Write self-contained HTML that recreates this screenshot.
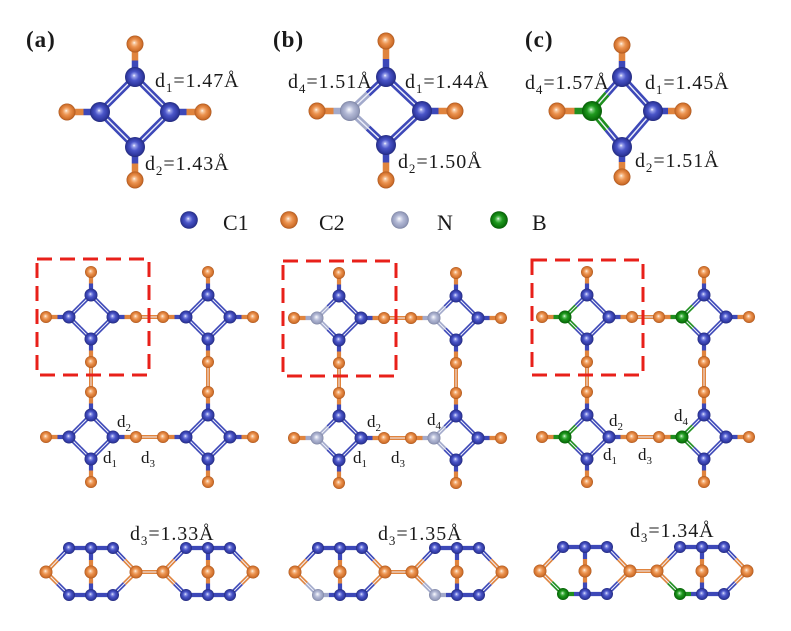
<!DOCTYPE html>
<html><head><meta charset="utf-8">
<style>
html,body{margin:0;padding:0;background:#fff;}
svg{display:block;}
.bb{stroke:#3d48b8;fill:none}
.bo{stroke:#e0843e;fill:none}
.bn{stroke:#a3aacb;fill:none}
.bg{stroke:#1f8f1f;fill:none}
.w{stroke:#eef0fa;fill:none}
text{font-family:"Liberation Serif","Times New Roman",serif;fill:#1a1a1a;}
</style></head>
<body>
<svg width="791" height="631" viewBox="0 0 791 631" xmlns="http://www.w3.org/2000/svg">
<defs>
<radialGradient id="gC1" cx="0.5" cy="0.5" r="0.5" fx="0.45" fy="0.42">
<stop offset="0" stop-color="#ffffff"/><stop offset="0.15" stop-color="#9aa2ec"/><stop offset="0.45" stop-color="#4a55c8"/><stop offset="0.85" stop-color="#2e379e"/><stop offset="1" stop-color="#232a7a"/>
</radialGradient>
<radialGradient id="gC2" cx="0.5" cy="0.5" r="0.5" fx="0.45" fy="0.42">
<stop offset="0" stop-color="#ffffff"/><stop offset="0.15" stop-color="#f8c9a0"/><stop offset="0.45" stop-color="#ec9350"/><stop offset="0.85" stop-color="#cf6f2a"/><stop offset="1" stop-color="#a85520"/>
</radialGradient>
<radialGradient id="gN" cx="0.5" cy="0.5" r="0.5" fx="0.45" fy="0.42">
<stop offset="0" stop-color="#ffffff"/><stop offset="0.15" stop-color="#e2e5f2"/><stop offset="0.45" stop-color="#b4bad6"/><stop offset="0.85" stop-color="#959cbc"/><stop offset="1" stop-color="#7a819f"/>
</radialGradient>
<radialGradient id="gB" cx="0.5" cy="0.5" r="0.5" fx="0.45" fy="0.42">
<stop offset="0" stop-color="#ffffff"/><stop offset="0.15" stop-color="#7fd07f"/><stop offset="0.45" stop-color="#1f9a1f"/><stop offset="0.85" stop-color="#0b720b"/><stop offset="1" stop-color="#075a07"/>
</radialGradient>

<!-- middle-row unit cell pieces -->
<g id="mBonds" stroke-width="4.2" stroke-linejoin="round">
<path class="bb" d="M0 -22V-33.5M22 0H33.5M0 22V33.5M0 22L22 0L0 -22"/>
<path class="bo" d="M0 -33.5V-45M33.5 0H45M0 33.5V45M-33.5 0H-45"/>
</g>
<path id="mWhite" class="w" stroke-width="1" d="M0 22L22 0L0 -22L-22 0Z"/>
<g id="mAtoms">
<circle cx="0" cy="-45" r="6" fill="url(#gC2)"/>
<circle cx="-45" cy="0" r="6" fill="url(#gC2)"/>
<circle cx="45" cy="0" r="6" fill="url(#gC2)"/>
<circle cx="0" cy="45" r="6" fill="url(#gC2)"/>
<circle cx="0" cy="-22" r="6.5" fill="url(#gC1)"/>
<circle cx="22" cy="0" r="6.5" fill="url(#gC1)"/>
<circle cx="0" cy="22" r="6.5" fill="url(#gC1)"/>
</g>
<g id="mA">
<use href="#mBonds"/>
<g stroke-width="4.2" stroke-linejoin="round">
<path class="bb" d="M0 -22L-11 -11M0 22L-11 11"/>
<path class="bb" d="M-11 -11L-22 0L-11 11M-22 0H-33.5"/>
</g>
<use href="#mWhite"/>
<use href="#mAtoms"/>
<circle cx="-22" cy="0" r="6.5" fill="url(#gC1)"/>
</g>
<g id="mN">
<use href="#mBonds"/>
<g stroke-width="4.2" stroke-linejoin="round">
<path class="bb" d="M0 -22L-11 -11M0 22L-11 11"/>
<path class="bn" d="M-11 -11L-22 0L-11 11M-22 0H-33.5"/>
</g>
<use href="#mWhite"/>
<use href="#mAtoms"/>
<circle cx="-22" cy="0" r="6.5" fill="url(#gN)"/>
</g>
<g id="mB">
<use href="#mBonds"/>
<g stroke-width="4.2" stroke-linejoin="round">
<path class="bb" d="M0 -22L-11 -11M0 22L-11 11"/>
<path class="bg" d="M-11 -11L-22 0L-11 11M-22 0H-33.5"/>
</g>
<use href="#mWhite"/>
<use href="#mAtoms"/>
<circle cx="-22" cy="0" r="6.5" fill="url(#gB)"/>
</g>

<!-- bottom-row side-view cell pieces -->
<g id="sBonds" stroke-width="4.2" stroke-linejoin="round">
<path class="bb" d="M-22 -24H22M0 23H22M0 -24V-12M0 23V11.5M-22 -24L-33.5 -12M22 -24L33.5 -12M22 23L33.5 11.5M0 23H-11"/>
<path class="bo" d="M0 -12V11.5M-33.5 -12L-45 0M33.5 -12L45 0L33.5 11.5M-33.5 11.5L-45 0"/>
</g>
<path id="sWhite" class="w" stroke-width="1" d="M-22 -24L-45 0L-22 23M22 -24L45 0L22 23"/>
<g id="sAtoms">
<circle cx="-45" cy="0" r="6.5" fill="url(#gC2)"/>
<circle cx="45" cy="0" r="6.5" fill="url(#gC2)"/>
<circle cx="-22" cy="-24" r="6" fill="url(#gC1)"/>
<circle cx="0" cy="-24" r="6" fill="url(#gC1)"/>
<circle cx="22" cy="-24" r="6" fill="url(#gC1)"/>
<circle cx="0" cy="0" r="6.5" fill="url(#gC2)"/>
<circle cx="0" cy="23" r="6" fill="url(#gC1)"/>
<circle cx="22" cy="23" r="6" fill="url(#gC1)"/>
</g>
<g id="sA">
<use href="#sBonds"/>
<path class="bb" stroke-width="4.2" stroke-linejoin="round" d="M-11 23H-22L-33.5 11.5"/>
<use href="#sWhite"/><use href="#sAtoms"/>
<circle cx="-22" cy="23" r="6" fill="url(#gC1)"/>
</g>
<g id="sN">
<use href="#sBonds"/>
<path class="bn" stroke-width="4.2" stroke-linejoin="round" d="M-11 23H-22L-33.5 11.5"/>
<use href="#sWhite"/><use href="#sAtoms"/>
<circle cx="-22" cy="23" r="6" fill="url(#gN)"/>
</g>
<g id="sB">
<use href="#sBonds"/>
<path class="bg" stroke-width="4.2" stroke-linejoin="round" d="M-11 23H-22L-33.5 11.5"/>
<use href="#sWhite"/><use href="#sAtoms"/>
<circle cx="-22" cy="23" r="6" fill="url(#gB)"/>
</g>
</defs>

<rect width="791" height="631" fill="#fff"/>

<!-- ================= TOP ROW ================= -->
<!-- (a) -->
<g stroke-width="6.5" stroke-linejoin="round">
<path class="bb" d="M135 77V60.5M100 112H83.5M170 112H186.5M135 147V163.5M135 77L100 112L135 147L170 112Z"/>
<path class="bo" d="M135 60.5V44M83.5 112H67M186.5 112H203M135 163.5V180"/>
</g>
<path class="w" stroke-width="1.4" d="M135 77L100 112L135 147L170 112Z"/>
<circle cx="135" cy="44" r="8.5" fill="url(#gC2)"/>
<circle cx="67" cy="112" r="8.5" fill="url(#gC2)"/>
<circle cx="203" cy="112" r="8.5" fill="url(#gC2)"/>
<circle cx="135" cy="180" r="8.5" fill="url(#gC2)"/>
<circle cx="135" cy="77" r="10" fill="url(#gC1)"/>
<circle cx="100" cy="112" r="10" fill="url(#gC1)"/>
<circle cx="170" cy="112" r="10" fill="url(#gC1)"/>
<circle cx="135" cy="147" r="10" fill="url(#gC1)"/>

<!-- (b) -->
<g stroke-width="6.5" stroke-linejoin="round">
<path class="bb" d="M386 77V59M422 111H438.5M386 145V162.5M386 77L368 94M386 145L368 128M386 145L422 111L386 77"/>
<path class="bn" d="M368 94L350 111L368 128M350 111H333.5"/>
<path class="bo" d="M386 59V41M333.5 111H317M438.5 111H455M386 162.5V180"/>
</g>
<path class="w" stroke-width="1.4" d="M386 77L350 111L386 145L422 111Z"/>
<circle cx="386" cy="41" r="8.5" fill="url(#gC2)"/>
<circle cx="317" cy="111" r="8.5" fill="url(#gC2)"/>
<circle cx="455" cy="111" r="8.5" fill="url(#gC2)"/>
<circle cx="386" cy="180" r="8.5" fill="url(#gC2)"/>
<circle cx="386" cy="77" r="10" fill="url(#gC1)"/>
<circle cx="350" cy="111" r="10" fill="url(#gN)"/>
<circle cx="422" cy="111" r="10" fill="url(#gC1)"/>
<circle cx="386" cy="145" r="10" fill="url(#gC1)"/>

<!-- (c) -->
<g stroke-width="6.5" stroke-linejoin="round">
<path class="bb" d="M622 77V61M653 111H668M622 147V162M622 77L607 94M622 147L607 129M622 147L653 111L622 77"/>
<path class="bg" d="M607 94L592 111L607 129M592 111H574.5"/>
<path class="bo" d="M622 61V45M574.5 111H557M668 111H683M622 162V177"/>
</g>
<path class="w" stroke-width="1.4" d="M622 77L592 111L622 147L653 111Z"/>
<circle cx="622" cy="45" r="8.5" fill="url(#gC2)"/>
<circle cx="557" cy="111" r="8.5" fill="url(#gC2)"/>
<circle cx="683" cy="111" r="8.5" fill="url(#gC2)"/>
<circle cx="622" cy="177" r="8.5" fill="url(#gC2)"/>
<circle cx="622" cy="77" r="10" fill="url(#gC1)"/>
<circle cx="592" cy="111" r="10" fill="url(#gB)"/>
<circle cx="653" cy="111" r="10" fill="url(#gC1)"/>
<circle cx="622" cy="147" r="10" fill="url(#gC1)"/>

<!-- top labels -->
<text x="26" y="47" font-size="23" font-weight="bold" letter-spacing="1">(a)</text>
<text x="273" y="47" font-size="23" font-weight="bold" letter-spacing="1">(b)</text>
<text x="525" y="47" font-size="23" font-weight="bold" letter-spacing="1">(c)</text>

<g font-size="20" letter-spacing="0.9">
<text x="155" y="87">d<tspan font-size="13" dy="5">1</tspan><tspan dy="-5">=1.47Å</tspan></text>
<text x="145" y="170">d<tspan font-size="13" dy="5">2</tspan><tspan dy="-5">=1.43Å</tspan></text>
<text x="288" y="88">d<tspan font-size="13" dy="5">4</tspan><tspan dy="-5">=1.51Å</tspan></text>
<text x="405" y="88">d<tspan font-size="13" dy="5">1</tspan><tspan dy="-5">=1.44Å</tspan></text>
<text x="398" y="168">d<tspan font-size="13" dy="5">2</tspan><tspan dy="-5">=1.50Å</tspan></text>
<text x="525" y="89">d<tspan font-size="13" dy="5">4</tspan><tspan dy="-5">=1.57Å</tspan></text>
<text x="645" y="89">d<tspan font-size="13" dy="5">1</tspan><tspan dy="-5">=1.45Å</tspan></text>
<text x="635" y="167">d<tspan font-size="13" dy="5">2</tspan><tspan dy="-5">=1.51Å</tspan></text>
</g>

<!-- legend -->
<circle cx="189" cy="220" r="8.8" fill="url(#gC1)"/>
<circle cx="289" cy="220" r="8.8" fill="url(#gC2)"/>
<circle cx="400" cy="220" r="8.8" fill="url(#gN)"/>
<circle cx="499" cy="220" r="8.8" fill="url(#gB)"/>
<g font-size="22">
<text x="223" y="230">C1</text>
<text x="319" y="230">C2</text>
<text x="437" y="230">N</text>
<text x="532" y="230">B</text>
</g>

<!-- ================= MIDDLE ROW ================= -->
<!-- bridges -->
<g stroke-width="4">
<path class="bo" d="M136 317H163M136 437H163M91 362V392M208 362V392"/>
<path class="bo" d="M384 318H411M384 438H411M339 363V393M456 363V393"/>
<path class="bo" d="M632 317H659M632 437H659M587 362V392M704 362V392"/>
</g>
<g stroke-width="0.9">
<path class="w" d="M136 317H163M136 437H163M91 362V392M208 362V392"/>
<path class="w" d="M384 318H411M384 438H411M339 363V393M456 363V393"/>
<path class="w" d="M632 317H659M632 437H659M587 362V392M704 362V392"/>
</g>
<use href="#mA" x="91" y="317"/>
<use href="#mA" x="208" y="317"/>
<use href="#mA" x="91" y="437"/>
<use href="#mA" x="208" y="437"/>
<use href="#mN" x="339" y="318"/>
<use href="#mN" x="456" y="318"/>
<use href="#mN" x="339" y="438"/>
<use href="#mN" x="456" y="438"/>
<use href="#mB" x="587" y="317"/>
<use href="#mB" x="704" y="317"/>
<use href="#mB" x="587" y="437"/>
<use href="#mB" x="704" y="437"/>

<!-- dashed boxes -->
<g fill="none" stroke="#e8201a" stroke-width="3" stroke-dasharray="15 8">
<rect x="37" y="259" width="112" height="116"/>
<rect x="283" y="261" width="113" height="115"/>
<rect x="532" y="260" width="111" height="115"/>
</g>

<!-- middle labels -->
<g font-size="17">
<text x="117" y="427">d<tspan font-size="11" dy="4">2</tspan></text>
<text x="103" y="463">d<tspan font-size="11" dy="4">1</tspan></text>
<text x="141" y="463">d<tspan font-size="11" dy="4">3</tspan></text>
<text x="367" y="427">d<tspan font-size="11" dy="4">2</tspan></text>
<text x="353" y="463">d<tspan font-size="11" dy="4">1</tspan></text>
<text x="391" y="463">d<tspan font-size="11" dy="4">3</tspan></text>
<text x="427" y="425">d<tspan font-size="11" dy="4">4</tspan></text>
<text x="609" y="426">d<tspan font-size="11" dy="4">2</tspan></text>
<text x="603" y="460">d<tspan font-size="11" dy="4">1</tspan></text>
<text x="638" y="460">d<tspan font-size="11" dy="4">3</tspan></text>
<text x="674" y="421">d<tspan font-size="11" dy="4">4</tspan></text>
</g>

<!-- ================= BOTTOM ROW ================= -->
<g stroke-width="4">
<path class="bo" d="M136 572H163M385 572H412M630 571H657"/>
</g>
<path class="w" stroke-width="0.9" d="M136 572H163M385 572H412M630 571H657"/>
<use href="#sA" x="91" y="572"/>
<use href="#sA" x="208" y="572"/>
<use href="#sN" x="340" y="572"/>
<use href="#sN" x="457" y="572"/>
<use href="#sB" x="585" y="571"/>
<use href="#sB" x="702" y="571"/>

<g font-size="20" letter-spacing="0.9">
<text x="130" y="540">d<tspan font-size="13" dy="5">3</tspan><tspan dy="-5">=1.33Å</tspan></text>
<text x="378" y="540">d<tspan font-size="13" dy="5">3</tspan><tspan dy="-5">=1.35Å</tspan></text>
<text x="630" y="537">d<tspan font-size="13" dy="5">3</tspan><tspan dy="-5">=1.34Å</tspan></text>
</g>
</svg>
</body></html>
